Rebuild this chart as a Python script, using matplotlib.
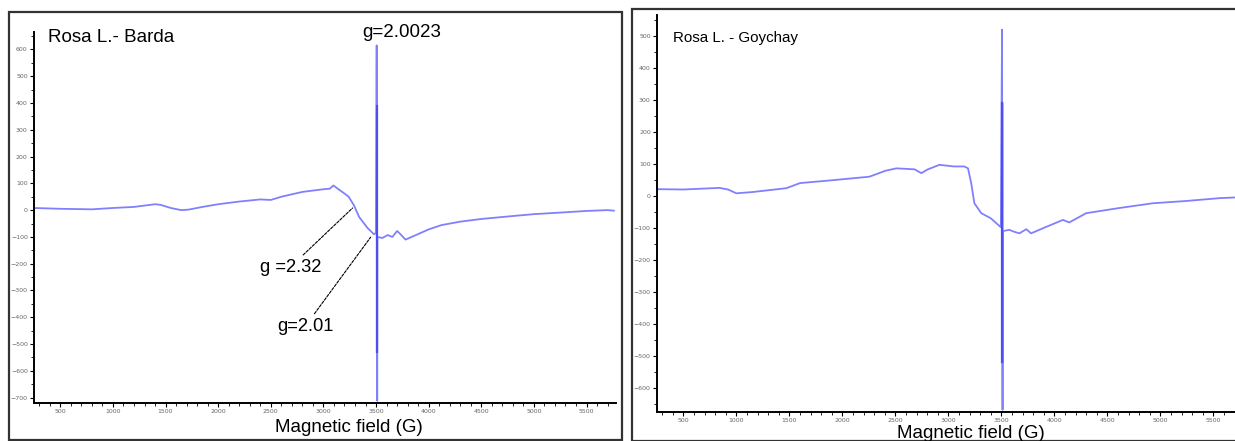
import numpy as np
import matplotlib
matplotlib.use("Agg")
from matplotlib import pyplot as plt
from matplotlib.patches import Rectangle
from matplotlib.ticker import MultipleLocator

# Rosa L. - Barda (field in G, signal)
barda_field = [250, 500, 800, 1000, 1200, 1400, 1450, 1550, 1650, 1720, 1850, 2000, 2200,
               2400, 2500, 2600, 2800, 3000, 3060, 3095, 3150, 3200, 3240, 3290, 3340,
               3420, 3480, 3500,
               3506, 3507, 3508, 3509, 3510, 3511, 3513,
               3560, 3610, 3655, 3700, 3720, 3780, 3850, 3925, 4000, 4120, 4300, 4500,
               4800, 5000, 5300, 5500, 5700, 5760]
barda_signal = [8, 5, 3, 8, 12, 22, 20, 8, 0, 2, 12, 22, 32,
                40, 38, 50, 68, 78, 80, 92, 76, 62, 50, 18, -26,
                -67, -90, -85,
                615, 390, -530, 390, -530, -712, -100,
                -104, -93, -100, -78, -85, -110, -98, -85, -72, -56, -43, -33,
                -22, -15, -8, -3, 0, -2]
barda_core = [390, -530]

# Rosa L. - Goychay
goy_field = [250, 500, 840, 920, 1000, 1150, 1470, 1600, 1940, 2255, 2410, 2510, 2680,
             2745, 2800, 2915, 3050, 3150, 3185, 3215, 3245, 3310, 3400, 3495,
             3506, 3507, 3508, 3509, 3510, 3511, 3513,
             3575, 3620, 3670, 3735, 3780, 3900, 4080, 4140, 4300, 4610, 4930, 5240,
             5560, 5700, 5780]
goy_signal = [21, 20, 25, 20, 8, 12, 24, 40, 50, 60, 79, 86, 83,
              71, 82, 97, 92, 92, 86, 40, -23, -54, -70, -98,
              519, 290, -520, 290, -520, -668, -110,
              -106, -112, -117, -104, -117, -100, -75, -83, -54, -38, -23, -16,
              -7, -5, -4]
goy_core = [290, -520]

line_col = "#8080ff"
core_col = "#4d4df2"
fnt = "Liberation Sans"

fig = plt.figure(figsize=(12.35, 4.41), dpi=100)

# outer panel frames
fig.patches.append(Rectangle((9 / 1235, 1 / 441), 613 / 1235, 428 / 441,
                             transform=fig.transFigure, fill=False, ec="#333333", lw=1.6))
fig.patches.append(Rectangle((632 / 1235, 0), 610 / 1235, 432 / 441,
                             transform=fig.transFigure, fill=False, ec="#333333", lw=1.6))

ax1 = fig.add_axes([34 / 1235, 1 - 403 / 441, 582 / 1235, 371 / 441])
ax2 = fig.add_axes([657 / 1235, 1 - 412 / 441, 586 / 1235, 397 / 441])


def style(ax, ylo, yhi):
    ax.set_xlim(250, 5780)
    ax.set_ylim(ylo, yhi)
    for s in ["top", "right"]:
        ax.spines[s].set_visible(False)
    for s in ["left", "bottom"]:
        ax.spines[s].set_linewidth(1.4)
    ax.xaxis.set_minor_locator(MultipleLocator(100))
    ax.yaxis.set_minor_locator(MultipleLocator(50))
    ax.set_xticks(np.arange(500, 5501, 500))
    ax.tick_params(which="major", length=3, width=0.8, labelsize=4.5, labelcolor="#666666",
                   pad=1.5, direction="out")
    ax.tick_params(which="minor", length=2, width=0.6, direction="out")


dash = (0, (2.5, 1.3))

# left panel
ax1.plot(barda_field, barda_signal, color=line_col, lw=1.3)
ax1.plot([3508, 3508], barda_core, color=core_col, lw=1.6)
style(ax1, -720, 665)
ax1.set_yticks(np.arange(-700, 601, 100))
fig.text(349 / 1235, 1 - 428 / 441, "Magnetic field (G)", fontsize=13.5, ha="center",
         va="center", family=fnt)
fig.text(48 / 1235, 1 - 37 / 441, "Rosa L.- Barda", fontsize=13.5, va="center", family=fnt)
ax1.text(3744, 664, "g=2.0023", fontsize=13.5, ha="center", va="center",
         family=fnt, clip_on=False)
ax1.annotate("g =2.32", xy=(3277, 8), xytext=(2685, -213), fontsize=13.2,
             ha="center", va="center", family=fnt,
             arrowprops=dict(arrowstyle="-", color="black", lw=0.8, ls=dash,
                             shrinkA=1, shrinkB=0))
ax1.annotate("g=2.01", xy=(3449, -101), xytext=(2828, -433), fontsize=13.2,
             ha="center", va="center", family=fnt,
             arrowprops=dict(arrowstyle="-", color="black", lw=0.8, ls=dash,
                             shrinkA=1, shrinkB=0))

# right panel
ax2.plot(goy_field, goy_signal, color=line_col, lw=1.3)
ax2.plot([3508, 3508], goy_core, color=core_col, lw=1.6)
style(ax2, -675, 565)
ax2.set_yticks(np.arange(-600, 501, 100))
fig.text(971 / 1235, 1 - 433 / 441, "Magnetic field (G)", fontsize=13.5, ha="center",
         va="center", family=fnt)
fig.text(673 / 1235, 1 - 38 / 441, "Rosa L. - Goychay", fontsize=10.9, va="center",
         family=fnt)

fig.savefig("out.png", dpi=100, facecolor="white")
